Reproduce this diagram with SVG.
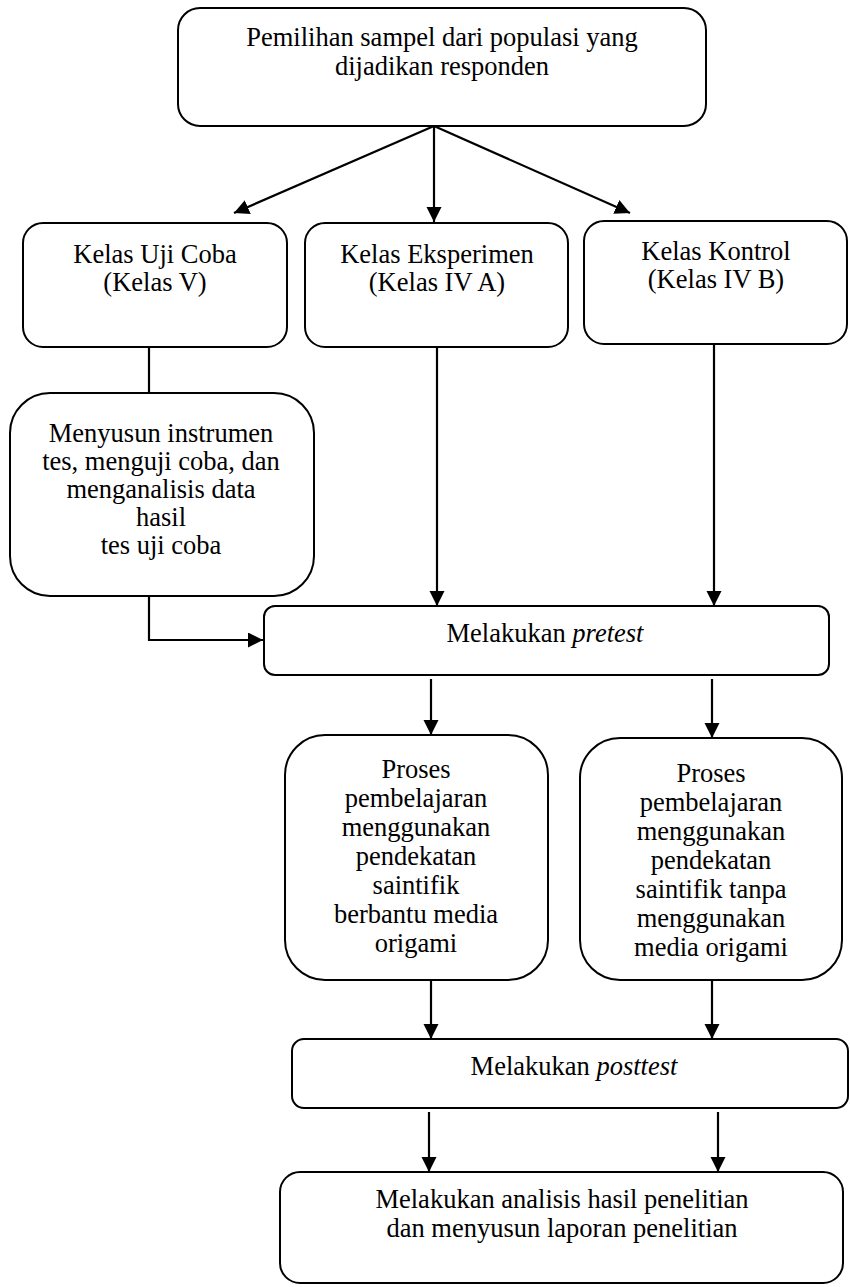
<svg xmlns="http://www.w3.org/2000/svg" width="850" height="1287" viewBox="0 0 850 1287">
<style>
.box{fill:#fff;stroke:#000;stroke-width:2}
.t{font-family:"Liberation Serif","Times New Roman",serif;font-size:26.5px;fill:#000;text-anchor:middle}
.c{fill:none;stroke:#000;stroke-width:2.2}
.ca{fill:none;stroke:#000;stroke-width:2.2;marker-end:url(#ah)}
</style>
<defs>
<marker id="ah" markerUnits="userSpaceOnUse" markerWidth="16" markerHeight="16" refX="15" refY="7.5" orient="auto">
<path d="M0,0 L15,7.5 L0,15 Z" fill="#000"/>
</marker>
</defs>
<rect width="850" height="1287" fill="#fff"/>
<g id="connectors">
<line class="ca" x1="434" y1="126" x2="234" y2="213"/>
<line class="ca" x1="434" y1="126" x2="434" y2="222"/>
<line class="ca" x1="434" y1="126" x2="630" y2="213"/>
<line class="c" x1="149" y1="347" x2="149" y2="393"/>
<line class="ca" x1="437" y1="347" x2="437" y2="606"/>
<line class="ca" x1="714" y1="344" x2="714" y2="606"/>
<path class="ca" d="M149,596 V640 H263"/>
<line class="ca" x1="431" y1="679" x2="431" y2="735"/>
<line class="ca" x1="712" y1="679" x2="712" y2="738"/>
<line class="ca" x1="431" y1="980" x2="431" y2="1039"/>
<line class="ca" x1="712" y1="980" x2="712" y2="1039"/>
<line class="ca" x1="429" y1="1112" x2="429" y2="1172"/>
<line class="ca" x1="718" y1="1112" x2="718" y2="1172"/>
</g>
<g id="n-sampel">
<rect class="box" x="178" y="8" width="528" height="118" rx="22"/>
<text class="t" x="442" y="46">Pemilihan sampel dari populasi yang</text>
<text class="t" x="442" y="75">dijadikan responden</text>
</g>
<g id="n-ujicoba">
<rect class="box" x="23" y="223" width="264" height="124" rx="20"/>
<text class="t" x="155" y="263">Kelas Uji Coba</text>
<text class="t" x="155" y="291">(Kelas V)</text>
</g>
<g id="n-eksperimen">
<rect class="box" x="305" y="223" width="263" height="124" rx="20"/>
<text class="t" x="437" y="263">Kelas Eksperimen</text>
<text class="t" x="437" y="291">(Kelas IV A)</text>
</g>
<g id="n-kontrol">
<rect class="box" x="584" y="221" width="263" height="123" rx="20"/>
<text class="t" x="716" y="260">Kelas Kontrol</text>
<text class="t" x="716" y="288">(Kelas IV B)</text>
</g>
<g id="n-instrumen">
<rect class="box" x="10" y="393" width="304" height="203" rx="40"/>
<text class="t" x="161" y="442">Menyusun instrumen</text>
<text class="t" x="161" y="470">tes, menguji coba, dan</text>
<text class="t" x="161" y="498">menganalisis data</text>
<text class="t" x="161" y="526">hasil</text>
<text class="t" x="161" y="554">tes uji coba</text>
</g>
<g id="n-pretest">
<rect class="box" x="264" y="606" width="565" height="69" rx="11"/>
<text class="t" x="545" y="642">Melakukan <tspan font-style="italic">pretest</tspan></text>
</g>
<g id="n-proses-eks">
<rect class="box" x="285" y="735" width="263" height="245" rx="40"/>
<text class="t" x="416" y="778">Proses</text>
<text class="t" x="416" y="807">pembelajaran</text>
<text class="t" x="416" y="836">menggunakan</text>
<text class="t" x="416" y="865">pendekatan</text>
<text class="t" x="416" y="894">saintifik</text>
<text class="t" x="416" y="923">berbantu media</text>
<text class="t" x="416" y="952">origami</text>
</g>
<g id="n-proses-kon">
<rect class="box" x="580" y="738" width="262" height="242" rx="40"/>
<text class="t" x="711" y="782">Proses</text>
<text class="t" x="711" y="811">pembelajaran</text>
<text class="t" x="711" y="840">menggunakan</text>
<text class="t" x="711" y="869">pendekatan</text>
<text class="t" x="711" y="898">saintifik tanpa</text>
<text class="t" x="711" y="927">menggunakan</text>
<text class="t" x="711" y="956">media origami</text>
</g>
<g id="n-posttest">
<rect class="box" x="292" y="1039" width="556" height="69" rx="12"/>
<text class="t" x="574" y="1075">Melakukan <tspan font-style="italic">posttest</tspan></text>
</g>
<g id="n-analisis">
<rect class="box" x="280" y="1172" width="563" height="111" rx="20"/>
<text class="t" x="562" y="1208">Melakukan analisis hasil penelitian</text>
<text class="t" x="562" y="1237">dan menyusun laporan penelitian</text>
</g>
</svg>
